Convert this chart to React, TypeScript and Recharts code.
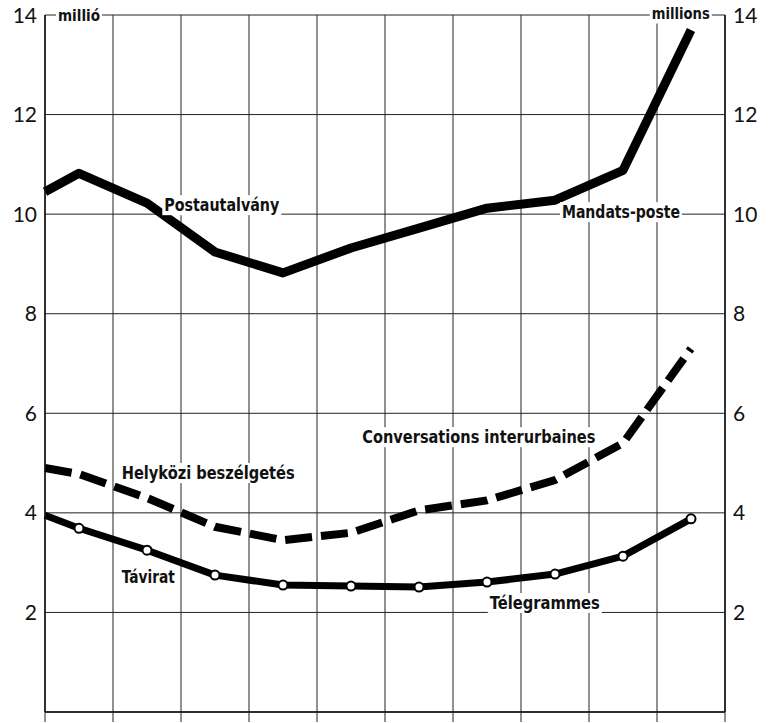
import React from "react";
import {
  LineChart,
  Line,
  XAxis,
  YAxis,
  CartesianGrid,
  ReferenceDot,
} from "recharts";

// x positions (column index; points sit mid-column, the first at the left edge)
const positions = [0, 0.5, 1.5, 2.5, 3.5, 4.5, 5.5, 6.5, 7.5, 8.5, 9.5];
const postautalvany = [10.45, 10.82, 10.22, 9.24, 8.82, 9.32, 9.72, 10.12, 10.28, 10.88, 13.7];
const helykozi = [4.9, 4.78, 4.3, 3.72, 3.45, 3.6, 4.05, 4.25, 4.66, 5.4, 7.3];
const tavirat = [3.95, 3.69, 3.25, 2.75, 2.55, 2.53, 2.51, 2.61, 2.77, 3.13, 3.88];

const xTicks = [0, 1, 2, 3, 4, 5, 6, 7, 8, 9, 10];
const yTicks = [0, 2, 4, 6, 8, 10, 12, 14];

type Note = { text: string; x: number; y: number; w: number; size: number };
const notes: Note[] = [
  { text: "Postautalvány", x: 2.6, y: 10.18, w: 115, size: 18 },
  { text: "Mandats-poste", x: 8.47, y: 10.04, w: 118, size: 18 },
  { text: "Helyközi beszélgetés", x: 2.4, y: 4.8, w: 173, size: 18 },
  { text: "Conversations interurbaines", x: 6.38, y: 5.52, w: 233, size: 18 },
  { text: "Távirat", x: 1.52, y: 2.71, w: 53, size: 18 },
  { text: "Télegrammes", x: 7.35, y: 2.19, w: 110, size: 18 },
  { text: "millió", x: 0.5, y: 14, w: 42, size: 16 },
  { text: "millions", x: 9.35, y: 14.03, w: 58, size: 16 },
];

const data = positions.map((x, i) => ({
  x,
  post: postautalvany[i],
  hely: helykozi[i],
  tav: tavirat[i],
}));

const labelFont = "'Liberation Sans Narrow', 'DejaVu Sans Condensed', 'Arial Narrow', sans-serif";
const tickFont = "Lato, 'Open Sans', 'DejaVu Sans', sans-serif";

const LeftTick = (props: any) => {
  const { x, y, payload } = props;
  if (payload.value === 0) return <g />;
  return (
    <text x={x} y={y} dy="0.36em" textAnchor="end" fontFamily={tickFont} fontSize={21} fontWeight={400} fill="#111">
      {payload.value}
    </text>
  );
};

const RightTick = (props: any) => {
  const { x, y, payload } = props;
  if (payload.value === 0) return <g />;
  return (
    <text x={x} y={y} dy="0.36em" textAnchor="start" fontFamily={tickFont} fontSize={21} fontWeight={400} fill="#111">
      {payload.value}
    </text>
  );
};

const NoTick = () => <g />;

const makeLabel = (n: Note) => (props: any) => {
  const { cx, cy } = props;
  return (
    <g>
      <rect x={cx - n.w / 2 - 2} y={cy - 10} width={n.w + 4} height={20} fill="#fff" />
      <text
        x={cx}
        y={cy}
        dy="0.35em"
        textAnchor="middle"
        fontFamily={labelFont}
        fontWeight={700}
        fontSize={n.size}
        fill="#111"
        textLength={n.w}
        lengthAdjust="spacingAndGlyphs"
      >
        {n.text}
      </text>
    </g>
  );
};

const TavDot = (props: any) => {
  const { cx, cy, index } = props;
  if (index === 0) return <g key={`d${index}`} />;
  return <circle key={`d${index}`} cx={cx} cy={cy} r={4.5} fill="#fff" stroke="#000" strokeWidth={2} />;
};

export default function App() {
  return (
    <div style={{ position: "absolute", left: 0, top: 0, background: "#fff" }}>
      <LineChart width={769} height={723} data={data} margin={{ top: 15, right: 0, bottom: 0, left: 0 }}>
        <CartesianGrid yAxisId="l" stroke="#222" strokeWidth={1} />
        <XAxis
          dataKey="x"
          type="number"
          domain={[0, 10]}
          ticks={xTicks}
          height={11}
          tickSize={10}
          tick={NoTick}
          tickLine={{ stroke: "#222", strokeWidth: 1 }}
          axisLine={{ stroke: "#111", strokeWidth: 1.5 }}
        />
        <YAxis
          yAxisId="l"
          orientation="left"
          width={45}
          domain={[0, 14]}
          allowDataOverflow
          ticks={yTicks}
          interval={0}
          tick={LeftTick}
          tickLine={false}
          axisLine={{ stroke: "#111", strokeWidth: 1.5 }}
        />
        <YAxis
          yAxisId="r"
          orientation="right"
          width={44}
          domain={[0, 14]}
          allowDataOverflow
          ticks={yTicks}
          interval={0}
          tick={RightTick}
          tickLine={false}
          axisLine={{ stroke: "#111", strokeWidth: 1.5 }}
        />
        <Line
          yAxisId="l"
          dataKey="post"
          stroke="#000"
          strokeWidth={9}
          dot={false}
          strokeLinejoin="round"
          isAnimationActive={false}
        />
        <Line
          yAxisId="r"
          dataKey="hely"
          stroke="#000"
          strokeWidth={8}
          strokeDasharray="27 9"
          dot={false}
          isAnimationActive={false}
        />
        <Line
          yAxisId="l"
          dataKey="tav"
          stroke="#000"
          strokeWidth={7}
          dot={TavDot}
          strokeLinejoin="round"
          isAnimationActive={false}
        />
        {notes.map((n) => (
          <ReferenceDot
            key={n.text}
            yAxisId="l"
            x={n.x}
            y={n.y}
            r={0}
            ifOverflow="visible"
            shape={makeLabel(n)}
          />
        ))}
      </LineChart>
    </div>
  );
}
